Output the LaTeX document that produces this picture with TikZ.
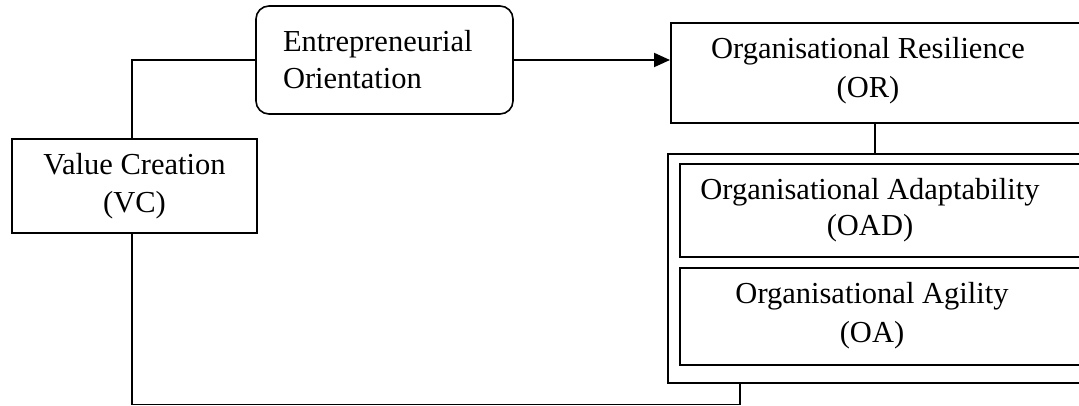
\documentclass[tikz,border=0pt]{standalone}
\usepackage{fontspec}
\setmainfont{Liberation Serif}
\usetikzlibrary{arrows.meta}
\begin{document}
\begin{tikzpicture}[x=1pt,y=-1pt,
  box/.style={draw, line width=1.6pt, inner sep=0pt, anchor=north west},
  txt/.style={align=center, font=\fontsize{30.5}{39}\selectfont, inner sep=0pt},
  conn/.style={line width=1.4pt},
  arr/.style={line width=2pt, -{Triangle[length=16pt,width=14pt]}}
]
\useasboundingbox (0,0) rectangle (1079,406);
\clip (0,0) rectangle (1079,406);
% boxes
\node[draw, line width=1.6pt, rounded corners=13pt, minimum width=257pt, minimum height=108pt,
      text width=203pt, inner xsep=27pt, inner ysep=0pt, align=left,
      font=\fontsize{30.5}{37}\selectfont] (eo) at (384.5,60) {Entrepreneurial\\Orientation};
\node[draw, line width=1.6pt, minimum width=245pt, minimum height=94pt, inner sep=0pt,
      align=center, font=\fontsize{30.5}{38}\selectfont] (vc) at (134.5,186) {Value Creation\\(VC)};
\node[box, minimum width=450pt, minimum height=100pt] (orbox) at (670,22) {};
\node[box, minimum width=450pt, minimum height=229pt] (outer) at (667,153) {};
\node[box, minimum width=440pt, minimum height=93pt] (oad) at (679,163) {};
\node[box, minimum width=440pt, minimum height=97pt] (oa) at (679,267) {};
% texts of clipped boxes
\node[txt] (ortxt) at (868,71) {Organisational Resilience\\(OR)};
\node[txt, font=\fontsize{30.5}{36}\selectfont] (oadtxt) at (870,210) {Organisational Adaptability\\(OAD)};
\node[txt] (oatxt) at (872,316) {Organisational Agility\\(OA)};
% joints
\coordinate (orjoin) at (875,100);
\coordinate (bot) at (740,404.3);
% connectors
\draw[conn] (eo.west) -| ([xshift=-2.5pt]vc.north);
\draw[arr] (eo.east) -- (eo.east -| orbox.west);
\draw[conn] (orjoin |- orbox.south) -- (orjoin |- outer.north);
\draw[conn] ([xshift=-2.5pt]vc.south) |- (bot) -- (bot |- outer.south);
\end{tikzpicture}
\end{document}
